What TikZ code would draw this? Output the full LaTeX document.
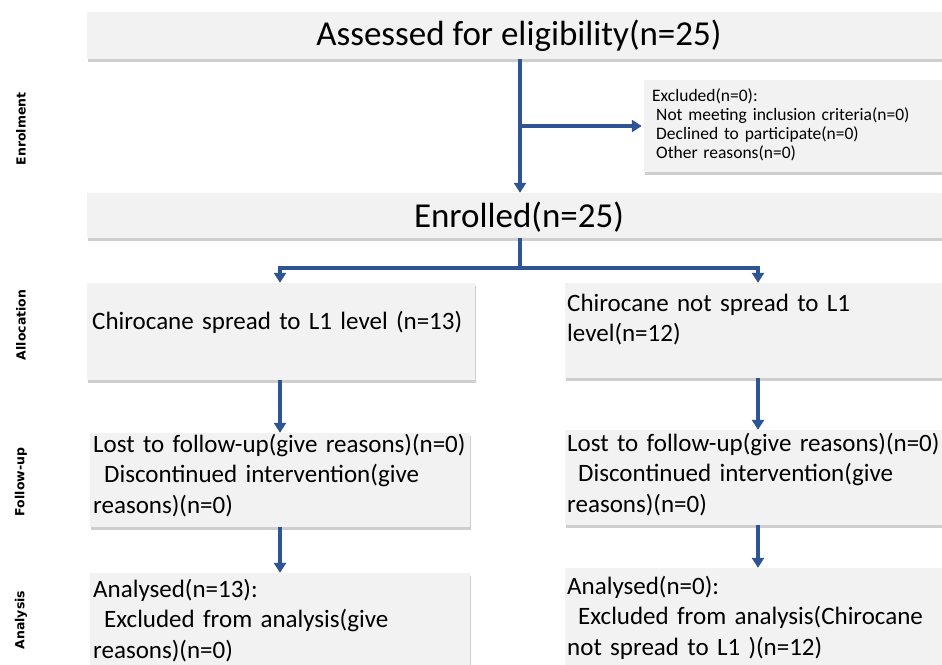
\documentclass[tikz,border=0pt]{standalone}
\usepackage{fontspec}
\setmainfont{Carlito}
\newfontfamily\sidefont{DejaVu Sans}
\usetikzlibrary{arrows.meta,shadows}
\definecolor{boxfill}{HTML}{F2F2F2}
\definecolor{flowblue}{HTML}{2F5496}
\begin{document}
\begin{tikzpicture}[x=1pt,y=-1pt,
  box/.style={fill=boxfill, draw=none, inner sep=0pt,
    drop shadow={shadow xshift=1.2pt, shadow yshift=-2.5pt, opacity=0.35, fill=black!55}},
  bigtxt/.style={inner sep=0pt, anchor=base, font=\fontsize{35}{42}\selectfont},
  midtxt/.style={inner sep=0pt, anchor=north west, align=left, text width=380pt,
    font=\fontsize{25}{30.5}\selectfont, execute at begin node=\strut},
  smalltxt/.style={inner sep=0pt, anchor=north west, align=left, text width=290pt,
    font=\fontsize{17.5}{19}\selectfont, execute at begin node=\strut},
  side/.style={rotate=90, inner sep=0pt, font=\sidefont\bfseries\fontsize{12.5}{15}\selectfont},
  flow/.style={draw=flowblue, line width=3.5pt},
  arr/.style={flow, -{Triangle[width=12pt,length=10pt]}}]
\useasboundingbox (0,0) rectangle (942,664);
\clip (0,0) rectangle (942,664);

% boxes
\node[box, minimum width=863pt, minimum height=47pt] (assess) at (518.5,35.5) {};
\node[box, minimum width=863pt, minimum height=45pt] (enrol) at (518.5,215.5) {};
\node[box, minimum width=306pt, minimum height=92pt] (excl) at (797,126) {};
\node[box, minimum width=388pt, minimum height=97pt] (allocL) at (281,331.5) {};
\node[box, minimum width=385pt, minimum height=95pt] (allocR) at (757.5,330.5) {};
\node[box, minimum width=380pt, minimum height=94pt] (followL) at (280,480) {};
\node[box, minimum width=385pt, minimum height=95pt] (followR) at (757.5,477.5) {};
\node[box, minimum width=380pt, minimum height=97pt] (anaL) at (280,621.5) {};
\node[box, minimum width=385pt, minimum height=102pt] (anaR) at (757.5,619) {};

% texts
\node[bigtxt] (tAssess) at (519,45.5) {Assessed for eligibility(n=25)};
\node[bigtxt] (tEnrol) at (519,227.5) {Enrolled(n=25)};
\node[smalltxt] (tExcl) at (652,87.7) {Excluded(n=0):\\\hspace*{4pt}Not meeting inclusion criteria(n=0)\\\hspace*{4pt}Declined to participate(n=0)\\\hspace*{4pt}Other reasons(n=0)};
\node[midtxt] (tAllocL) at (92,307.6) {Chirocane spread to L1 level (n=13)};
\node[midtxt] (tAllocR) at (567,289.6) {Chirocane not spread to L1\\level(n=12)};
\node[midtxt] (tFollowL) at (93,430.6) {Lost to follow-up(give reasons)(n=0)\\\hspace*{11pt}Discontinued intervention(give\\reasons)(n=0)};
\node[midtxt] (tFollowR) at (567,429.6) {Lost to follow-up(give reasons)(n=0)\\\hspace*{11pt}Discontinued intervention(give\\reasons)(n=0)};
\node[midtxt] (tAnaL) at (93,575.6) {Analysed(n=13):\\\hspace*{11pt}Excluded from analysis(give\\reasons)(n=0)};
\node[midtxt] (tAnaR) at (567,572.6) {Analysed(n=0):\\\hspace*{11pt}Excluded from analysis(Chirocane\\not spread to L1 )(n=12)};

% side labels
\node[side] (sEnrol) at (21,129) {Enrolment};
\node[side] (sAlloc) at (21,325) {Allocation};
\node[side] (sFollow) at (21,482) {Follow-up};
\node[side] (sAna) at (21,620) {Analysis};

% connectors
\coordinate (trunk) at (520,0);
\coordinate (split) at (520,268);
\coordinate (colL) at (280,0);
\coordinate (colR) at (758,0);
\draw[arr] (assess.south -| trunk) -- (enrol.north -| trunk);
\draw[arr] (trunk |- excl.west) -- ([xshift=-2pt]excl.west);
\draw[flow] (enrol.south -| trunk) -- (split);
\draw[arr] (split) -| (allocL.north -| colL);
\draw[arr] (split) -| (allocR.north -| colR);
\draw[arr] (allocL.south -| colL) -- (followL.north -| colL);
\draw[arr] (allocR.south -| colR) -- (followR.north -| colR);
\draw[arr] (followL.south -| colL) -- (anaL.north -| colL);
\draw[arr] (followR.south -| colR) -- (anaR.north -| colR);
\end{tikzpicture}
\end{document}
